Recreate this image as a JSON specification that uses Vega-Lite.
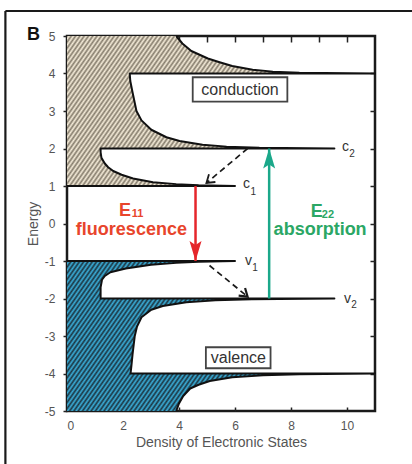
{
  "$schema": "https://vega.github.io/schema/vega-lite/v6.json",
  "width": 308,
  "height": 375,
  "autosize": {"type": "none"},
  "padding": {"left": 67, "top": 36, "right": 37, "bottom": 53},
  "background": "white",
  "config": {
    "view": {"stroke": "#1a1a1a", "strokeWidth": 2.5},
    "axis": {
      "domain": false,
      "grid": false,
      "labelFont": "Liberation Sans",
      "labelFontSize": 12,
      "labelColor": "#555555",
      "tickColor": "#222222",
      "tickWidth": 1.5,
      "titleFont": "Liberation Sans",
      "titleFontSize": 14,
      "titleFontWeight": "normal",
      "titleColor": "#555555"
    },
    "text": {"font": "Liberation Sans"}
  },
  "datasets": {
    "dos": [
      {"band": "conduction", "seq": 1, "density": 0, "energy": 1.0, "corner": false},
      {"band": "conduction", "seq": 2, "density": 6.0, "energy": 1.0, "corner": false},
      {"band": "conduction", "seq": 3, "density": 4.7, "energy": 1.02, "corner": false},
      {"band": "conduction", "seq": 4, "density": 3.9, "energy": 1.05, "corner": false},
      {"band": "conduction", "seq": 5, "density": 3.07, "energy": 1.1, "corner": false},
      {"band": "conduction", "seq": 6, "density": 2.36, "energy": 1.2, "corner": false},
      {"band": "conduction", "seq": 7, "density": 1.95, "energy": 1.3, "corner": false},
      {"band": "conduction", "seq": 8, "density": 1.65, "energy": 1.4, "corner": false},
      {"band": "conduction", "seq": 9, "density": 1.47, "energy": 1.5, "corner": false},
      {"band": "conduction", "seq": 10, "density": 1.35, "energy": 1.6, "corner": false},
      {"band": "conduction", "seq": 11, "density": 1.23, "energy": 1.75, "corner": false},
      {"band": "conduction", "seq": 12, "density": 1.2, "energy": 1.9, "corner": false},
      {"band": "conduction", "seq": 13, "density": 1.2, "energy": 2.0, "corner": false},
      {"band": "conduction", "seq": 14, "density": 9.55, "energy": 2.0, "corner": false},
      {"band": "conduction", "seq": 15, "density": 6.87, "energy": 2.02, "corner": false},
      {"band": "conduction", "seq": 16, "density": 5.7, "energy": 2.05, "corner": false},
      {"band": "conduction", "seq": 17, "density": 4.84, "energy": 2.1, "corner": false},
      {"band": "conduction", "seq": 18, "density": 4.02, "energy": 2.2, "corner": false},
      {"band": "conduction", "seq": 19, "density": 3.55, "energy": 2.3, "corner": false},
      {"band": "conduction", "seq": 20, "density": 3.01, "energy": 2.5, "corner": false},
      {"band": "conduction", "seq": 21, "density": 2.66, "energy": 2.75, "corner": false},
      {"band": "conduction", "seq": 22, "density": 2.48, "energy": 3.0, "corner": false},
      {"band": "conduction", "seq": 23, "density": 2.34, "energy": 3.5, "corner": false},
      {"band": "conduction", "seq": 24, "density": 2.26, "energy": 3.8, "corner": false},
      {"band": "conduction", "seq": 25, "density": 2.24, "energy": 4.0, "corner": false},
      {"band": "conduction", "seq": 26, "density": 11, "energy": 4.0, "corner": false},
      {"band": "conduction", "seq": 27, "density": 8.3, "energy": 4.02, "corner": false},
      {"band": "conduction", "seq": 28, "density": 7.35, "energy": 4.05, "corner": false},
      {"band": "conduction", "seq": 29, "density": 6.63, "energy": 4.1, "corner": false},
      {"band": "conduction", "seq": 30, "density": 5.9, "energy": 4.2, "corner": false},
      {"band": "conduction", "seq": 31, "density": 5.45, "energy": 4.3, "corner": false},
      {"band": "conduction", "seq": 32, "density": 5.03, "energy": 4.4, "corner": false},
      {"band": "conduction", "seq": 33, "density": 4.44, "energy": 4.6, "corner": false},
      {"band": "conduction", "seq": 34, "density": 4.12, "energy": 4.8, "corner": false},
      {"band": "conduction", "seq": 35, "density": 3.9, "energy": 5.0, "corner": false},
      {"band": "conduction", "seq": 36, "density": 0, "energy": 5.0, "corner": true},
      {"band": "valence", "seq": 0, "density": 0, "energy": -5.0, "corner": true},
      {"band": "valence", "seq": 1, "density": 3.9, "energy": -5.0, "corner": false},
      {"band": "valence", "seq": 2, "density": 4.0, "energy": -4.8, "corner": false},
      {"band": "valence", "seq": 3, "density": 4.15, "energy": -4.6, "corner": false},
      {"band": "valence", "seq": 4, "density": 4.4, "energy": -4.4, "corner": false},
      {"band": "valence", "seq": 5, "density": 4.7, "energy": -4.3, "corner": false},
      {"band": "valence", "seq": 6, "density": 5.1, "energy": -4.2, "corner": false},
      {"band": "valence", "seq": 7, "density": 5.9, "energy": -4.1, "corner": false},
      {"band": "valence", "seq": 8, "density": 7.0, "energy": -4.05, "corner": false},
      {"band": "valence", "seq": 9, "density": 8.3, "energy": -4.02, "corner": false},
      {"band": "valence", "seq": 10, "density": 11, "energy": -4.0, "corner": false},
      {"band": "valence", "seq": 11, "density": 2.27, "energy": -4.0, "corner": false},
      {"band": "valence", "seq": 12, "density": 2.3, "energy": -3.8, "corner": false},
      {"band": "valence", "seq": 13, "density": 2.34, "energy": -3.5, "corner": false},
      {"band": "valence", "seq": 14, "density": 2.42, "energy": -3.0, "corner": false},
      {"band": "valence", "seq": 15, "density": 2.5, "energy": -2.75, "corner": false},
      {"band": "valence", "seq": 16, "density": 2.66, "energy": -2.5, "corner": false},
      {"band": "valence", "seq": 17, "density": 3.01, "energy": -2.3, "corner": false},
      {"band": "valence", "seq": 18, "density": 3.42, "energy": -2.2, "corner": false},
      {"band": "valence", "seq": 19, "density": 4.26, "energy": -2.1, "corner": false},
      {"band": "valence", "seq": 20, "density": 5.3, "energy": -2.05, "corner": false},
      {"band": "valence", "seq": 21, "density": 6.6, "energy": -2.02, "corner": false},
      {"band": "valence", "seq": 22, "density": 9.55, "energy": -2.0, "corner": false},
      {"band": "valence", "seq": 23, "density": 1.2, "energy": -2.0, "corner": false},
      {"band": "valence", "seq": 24, "density": 1.2, "energy": -1.7, "corner": false},
      {"band": "valence", "seq": 25, "density": 1.25, "energy": -1.5, "corner": false},
      {"band": "valence", "seq": 26, "density": 1.35, "energy": -1.4, "corner": false},
      {"band": "valence", "seq": 27, "density": 1.55, "energy": -1.3, "corner": false},
      {"band": "valence", "seq": 28, "density": 2.1, "energy": -1.2, "corner": false},
      {"band": "valence", "seq": 29, "density": 3.0, "energy": -1.1, "corner": false},
      {"band": "valence", "seq": 30, "density": 3.9, "energy": -1.05, "corner": false},
      {"band": "valence", "seq": 31, "density": 4.7, "energy": -1.02, "corner": false},
      {"band": "valence", "seq": 32, "density": 6.0, "energy": -1.0, "corner": false},
      {"band": "valence", "seq": 33, "density": 0, "energy": -1.0, "corner": false}
    ],
    "arrows": [
      {"arrow": "E11", "x": 4.59, "y": 1.0, "x2": 4.59, "y2": -1.0},
      {"arrow": "E22", "x": 7.22, "y": -2.0, "x2": 7.22, "y2": 2.0},
      {"arrow": "c2 to c1", "x": 6.45, "y": 2.0, "x2": 4.98, "y2": 1.08},
      {"arrow": "v1 to v2", "x": 5.09, "y": -1.12, "x2": 6.45, "y2": -1.95}
    ],
    "boxes": [
      {"label": "conduction", "x": 4.49, "x2": 7.87, "y": 3.25, "y2": 3.9, "xc": 6.18, "yc": 3.57},
      {"label": "valence", "x": 4.96, "x2": 7.27, "y": -3.86, "y2": -3.3, "xc": 6.12, "yc": -3.58}
    ],
    "levels": [
      {"text": "c", "x": 9.82, "y": 2.03, "part": "letter"},
      {"text": "2", "x": 10.08, "y": 1.86, "part": "index"},
      {"text": "c", "x": 6.29, "y": 1.05, "part": "letter"},
      {"text": "1", "x": 6.55, "y": 0.85, "part": "index"},
      {"text": "v", "x": 6.36, "y": -1.01, "part": "letter"},
      {"text": "1", "x": 6.62, "y": -1.19, "part": "index"},
      {"text": "v", "x": 9.89, "y": -2.0, "part": "letter"},
      {"text": "2", "x": 10.15, "y": -2.17, "part": "index"}
    ],
    "transitions": [
      {"text": "E", "x": 2.07, "y": 0.34, "group": "E11", "part": "symbol"},
      {"text": "11", "x": 2.52, "y": 0.25, "group": "E11", "part": "index"},
      {"text": "fluorescence", "x": 2.3, "y": -0.17, "group": "E11", "part": "name"},
      {"text": "E", "x": 8.92, "y": 0.32, "group": "E22", "part": "symbol"},
      {"text": "22", "x": 9.32, "y": 0.24, "group": "E22", "part": "index"},
      {"text": "absorption", "x": 9.04, "y": -0.17, "group": "E22", "part": "name"}
    ],
    "panel": [{"text": "B", "x": -1.43, "y": 5.03}],
    "frame": [
      {"x": -2.2, "y": 5.667, "x2": 12.6, "y2": 5.667},
      {"x": -2.2, "y": 5.667, "x2": -2.2, "y2": -6.7}
    ]
  },
  "layer": [
    {
      "layer": [
        {
          "data": {"name": "dos"},
          "transform": [{"filter": "datum.band === 'conduction'"}],
          "mark": {
            "type": "line",
            "strokeOpacity": 0,
            "fill": {
              "gradient": "linear", "x1": 0, "y1": 0, "x2": 1, "y2": 0.34,
              "stops": [
                {"offset":0,"color":"#857c6c"},{"offset":0.00625,"color":"#f5ecd9"},{"offset":0.0125,"color":"#857c6c"},{"offset":0.01875,"color":"#f5ecd9"},{"offset":0.025,"color":"#857c6c"},{"offset":0.03125,"color":"#f5ecd9"},{"offset":0.0375,"color":"#857c6c"},{"offset":0.04375,"color":"#f5ecd9"},
                {"offset":0.05,"color":"#857c6c"},{"offset":0.05625,"color":"#f5ecd9"},{"offset":0.0625,"color":"#857c6c"},{"offset":0.06875,"color":"#f5ecd9"},{"offset":0.075,"color":"#857c6c"},{"offset":0.08125,"color":"#f5ecd9"},{"offset":0.0875,"color":"#857c6c"},{"offset":0.09375,"color":"#f5ecd9"},
                {"offset":0.1,"color":"#857c6c"},{"offset":0.10625,"color":"#f5ecd9"},{"offset":0.1125,"color":"#857c6c"},{"offset":0.11875,"color":"#f5ecd9"},{"offset":0.125,"color":"#857c6c"},{"offset":0.13125,"color":"#f5ecd9"},{"offset":0.1375,"color":"#857c6c"},{"offset":0.14375,"color":"#f5ecd9"},
                {"offset":0.15,"color":"#857c6c"},{"offset":0.15625,"color":"#f5ecd9"},{"offset":0.1625,"color":"#857c6c"},{"offset":0.16875,"color":"#f5ecd9"},{"offset":0.175,"color":"#857c6c"},{"offset":0.18125,"color":"#f5ecd9"},{"offset":0.1875,"color":"#857c6c"},{"offset":0.19375,"color":"#f5ecd9"},
                {"offset":0.2,"color":"#857c6c"},{"offset":0.20625,"color":"#f5ecd9"},{"offset":0.2125,"color":"#857c6c"},{"offset":0.21875,"color":"#f5ecd9"},{"offset":0.225,"color":"#857c6c"},{"offset":0.23125,"color":"#f5ecd9"},{"offset":0.2375,"color":"#857c6c"},{"offset":0.24375,"color":"#f5ecd9"},
                {"offset":0.25,"color":"#857c6c"},{"offset":0.25625,"color":"#f5ecd9"},{"offset":0.2625,"color":"#857c6c"},{"offset":0.26875,"color":"#f5ecd9"},{"offset":0.275,"color":"#857c6c"},{"offset":0.28125,"color":"#f5ecd9"},{"offset":0.2875,"color":"#857c6c"},{"offset":0.29375,"color":"#f5ecd9"},
                {"offset":0.3,"color":"#857c6c"},{"offset":0.30625,"color":"#f5ecd9"},{"offset":0.3125,"color":"#857c6c"},{"offset":0.31875,"color":"#f5ecd9"},{"offset":0.325,"color":"#857c6c"},{"offset":0.33125,"color":"#f5ecd9"},{"offset":0.3375,"color":"#857c6c"},{"offset":0.34375,"color":"#f5ecd9"},
                {"offset":0.35,"color":"#857c6c"},{"offset":0.35625,"color":"#f5ecd9"},{"offset":0.3625,"color":"#857c6c"},{"offset":0.36875,"color":"#f5ecd9"},{"offset":0.375,"color":"#857c6c"},{"offset":0.38125,"color":"#f5ecd9"},{"offset":0.3875,"color":"#857c6c"},{"offset":0.39375,"color":"#f5ecd9"},
                {"offset":0.4,"color":"#857c6c"},{"offset":0.40625,"color":"#f5ecd9"},{"offset":0.4125,"color":"#857c6c"},{"offset":0.41875,"color":"#f5ecd9"},{"offset":0.425,"color":"#857c6c"},{"offset":0.43125,"color":"#f5ecd9"},{"offset":0.4375,"color":"#857c6c"},{"offset":0.44375,"color":"#f5ecd9"},
                {"offset":0.45,"color":"#857c6c"},{"offset":0.45625,"color":"#f5ecd9"},{"offset":0.4625,"color":"#857c6c"},{"offset":0.46875,"color":"#f5ecd9"},{"offset":0.475,"color":"#857c6c"},{"offset":0.48125,"color":"#f5ecd9"},{"offset":0.4875,"color":"#857c6c"},{"offset":0.49375,"color":"#f5ecd9"},
                {"offset":0.5,"color":"#857c6c"},{"offset":0.50625,"color":"#f5ecd9"},{"offset":0.5125,"color":"#857c6c"},{"offset":0.51875,"color":"#f5ecd9"},{"offset":0.525,"color":"#857c6c"},{"offset":0.53125,"color":"#f5ecd9"},{"offset":0.5375,"color":"#857c6c"},{"offset":0.54375,"color":"#f5ecd9"},
                {"offset":0.55,"color":"#857c6c"},{"offset":0.55625,"color":"#f5ecd9"},{"offset":0.5625,"color":"#857c6c"},{"offset":0.56875,"color":"#f5ecd9"},{"offset":0.575,"color":"#857c6c"},{"offset":0.58125,"color":"#f5ecd9"},{"offset":0.5875,"color":"#857c6c"},{"offset":0.59375,"color":"#f5ecd9"},
                {"offset":0.6,"color":"#857c6c"},{"offset":0.60625,"color":"#f5ecd9"},{"offset":0.6125,"color":"#857c6c"},{"offset":0.61875,"color":"#f5ecd9"},{"offset":0.625,"color":"#857c6c"},{"offset":0.63125,"color":"#f5ecd9"},{"offset":0.6375,"color":"#857c6c"},{"offset":0.64375,"color":"#f5ecd9"},
                {"offset":0.65,"color":"#857c6c"},{"offset":0.65625,"color":"#f5ecd9"},{"offset":0.6625,"color":"#857c6c"},{"offset":0.66875,"color":"#f5ecd9"},{"offset":0.675,"color":"#857c6c"},{"offset":0.68125,"color":"#f5ecd9"},{"offset":0.6875,"color":"#857c6c"},{"offset":0.69375,"color":"#f5ecd9"},
                {"offset":0.7,"color":"#857c6c"},{"offset":0.70625,"color":"#f5ecd9"},{"offset":0.7125,"color":"#857c6c"},{"offset":0.71875,"color":"#f5ecd9"},{"offset":0.725,"color":"#857c6c"},{"offset":0.73125,"color":"#f5ecd9"},{"offset":0.7375,"color":"#857c6c"},{"offset":0.74375,"color":"#f5ecd9"},
                {"offset":0.75,"color":"#857c6c"},{"offset":0.75625,"color":"#f5ecd9"},{"offset":0.7625,"color":"#857c6c"},{"offset":0.76875,"color":"#f5ecd9"},{"offset":0.775,"color":"#857c6c"},{"offset":0.78125,"color":"#f5ecd9"},{"offset":0.7875,"color":"#857c6c"},{"offset":0.79375,"color":"#f5ecd9"},
                {"offset":0.8,"color":"#857c6c"},{"offset":0.80625,"color":"#f5ecd9"},{"offset":0.8125,"color":"#857c6c"},{"offset":0.81875,"color":"#f5ecd9"},{"offset":0.825,"color":"#857c6c"},{"offset":0.83125,"color":"#f5ecd9"},{"offset":0.8375,"color":"#857c6c"},{"offset":0.84375,"color":"#f5ecd9"},
                {"offset":0.85,"color":"#857c6c"},{"offset":0.85625,"color":"#f5ecd9"},{"offset":0.8625,"color":"#857c6c"},{"offset":0.86875,"color":"#f5ecd9"},{"offset":0.875,"color":"#857c6c"},{"offset":0.88125,"color":"#f5ecd9"},{"offset":0.8875,"color":"#857c6c"},{"offset":0.89375,"color":"#f5ecd9"},
                {"offset":0.9,"color":"#857c6c"},{"offset":0.90625,"color":"#f5ecd9"},{"offset":0.9125,"color":"#857c6c"},{"offset":0.91875,"color":"#f5ecd9"},{"offset":0.925,"color":"#857c6c"},{"offset":0.93125,"color":"#f5ecd9"},{"offset":0.9375,"color":"#857c6c"},{"offset":0.94375,"color":"#f5ecd9"},
                {"offset":0.95,"color":"#857c6c"},{"offset":0.95625,"color":"#f5ecd9"},{"offset":0.9625,"color":"#857c6c"},{"offset":0.96875,"color":"#f5ecd9"},{"offset":0.975,"color":"#857c6c"},{"offset":0.98125,"color":"#f5ecd9"},{"offset":0.9875,"color":"#857c6c"},{"offset":0.99375,"color":"#f5ecd9"},
                {"offset":1,"color":"#857c6c"}
              ]
            }
          },
          "encoding": {
            "x": {
              "field": "density", "type": "quantitative",
              "scale": {"domain": [0, 11], "nice": false, "zero": false},
              "axis": {
                "title": "Density of Electronic States",
                "values": [0, 1, 2, 3, 4, 5, 6, 7, 8, 9, 10],
                "labelExpr": "datum.value % 2 === 0 ? '' + datum.value : ''",
                "labelOverlap": false,
                "tickSize": -4,
                "labelPadding": 13,
                "titlePadding": 4
              }
            },
            "y": {
              "field": "energy", "type": "quantitative",
              "scale": {"domain": [-5, 5], "nice": false, "zero": false},
              "axis": {"orient": "right", "labels": false, "title": null, "values": [-4, -3, -2, -1, 0, 1, 2, 3, 4], "tickSize": -5}
            },
            "order": {"field": "seq"}
          }
        },
        {
          "data": {"name": "dos"},
          "transform": [{"filter": "datum.band === 'valence'"}],
          "mark": {
            "type": "line",
            "strokeOpacity": 0,
            "fill": {
              "gradient": "linear", "x1": 0, "y1": 0, "x2": 1, "y2": 0.34,
              "stops": [
                {"offset":0,"color":"#1c3440"},{"offset":0.00625,"color":"#3aaed9"},{"offset":0.0125,"color":"#1c3440"},{"offset":0.01875,"color":"#3aaed9"},{"offset":0.025,"color":"#1c3440"},{"offset":0.03125,"color":"#3aaed9"},{"offset":0.0375,"color":"#1c3440"},{"offset":0.04375,"color":"#3aaed9"},
                {"offset":0.05,"color":"#1c3440"},{"offset":0.05625,"color":"#3aaed9"},{"offset":0.0625,"color":"#1c3440"},{"offset":0.06875,"color":"#3aaed9"},{"offset":0.075,"color":"#1c3440"},{"offset":0.08125,"color":"#3aaed9"},{"offset":0.0875,"color":"#1c3440"},{"offset":0.09375,"color":"#3aaed9"},
                {"offset":0.1,"color":"#1c3440"},{"offset":0.10625,"color":"#3aaed9"},{"offset":0.1125,"color":"#1c3440"},{"offset":0.11875,"color":"#3aaed9"},{"offset":0.125,"color":"#1c3440"},{"offset":0.13125,"color":"#3aaed9"},{"offset":0.1375,"color":"#1c3440"},{"offset":0.14375,"color":"#3aaed9"},
                {"offset":0.15,"color":"#1c3440"},{"offset":0.15625,"color":"#3aaed9"},{"offset":0.1625,"color":"#1c3440"},{"offset":0.16875,"color":"#3aaed9"},{"offset":0.175,"color":"#1c3440"},{"offset":0.18125,"color":"#3aaed9"},{"offset":0.1875,"color":"#1c3440"},{"offset":0.19375,"color":"#3aaed9"},
                {"offset":0.2,"color":"#1c3440"},{"offset":0.20625,"color":"#3aaed9"},{"offset":0.2125,"color":"#1c3440"},{"offset":0.21875,"color":"#3aaed9"},{"offset":0.225,"color":"#1c3440"},{"offset":0.23125,"color":"#3aaed9"},{"offset":0.2375,"color":"#1c3440"},{"offset":0.24375,"color":"#3aaed9"},
                {"offset":0.25,"color":"#1c3440"},{"offset":0.25625,"color":"#3aaed9"},{"offset":0.2625,"color":"#1c3440"},{"offset":0.26875,"color":"#3aaed9"},{"offset":0.275,"color":"#1c3440"},{"offset":0.28125,"color":"#3aaed9"},{"offset":0.2875,"color":"#1c3440"},{"offset":0.29375,"color":"#3aaed9"},
                {"offset":0.3,"color":"#1c3440"},{"offset":0.30625,"color":"#3aaed9"},{"offset":0.3125,"color":"#1c3440"},{"offset":0.31875,"color":"#3aaed9"},{"offset":0.325,"color":"#1c3440"},{"offset":0.33125,"color":"#3aaed9"},{"offset":0.3375,"color":"#1c3440"},{"offset":0.34375,"color":"#3aaed9"},
                {"offset":0.35,"color":"#1c3440"},{"offset":0.35625,"color":"#3aaed9"},{"offset":0.3625,"color":"#1c3440"},{"offset":0.36875,"color":"#3aaed9"},{"offset":0.375,"color":"#1c3440"},{"offset":0.38125,"color":"#3aaed9"},{"offset":0.3875,"color":"#1c3440"},{"offset":0.39375,"color":"#3aaed9"},
                {"offset":0.4,"color":"#1c3440"},{"offset":0.40625,"color":"#3aaed9"},{"offset":0.4125,"color":"#1c3440"},{"offset":0.41875,"color":"#3aaed9"},{"offset":0.425,"color":"#1c3440"},{"offset":0.43125,"color":"#3aaed9"},{"offset":0.4375,"color":"#1c3440"},{"offset":0.44375,"color":"#3aaed9"},
                {"offset":0.45,"color":"#1c3440"},{"offset":0.45625,"color":"#3aaed9"},{"offset":0.4625,"color":"#1c3440"},{"offset":0.46875,"color":"#3aaed9"},{"offset":0.475,"color":"#1c3440"},{"offset":0.48125,"color":"#3aaed9"},{"offset":0.4875,"color":"#1c3440"},{"offset":0.49375,"color":"#3aaed9"},
                {"offset":0.5,"color":"#1c3440"},{"offset":0.50625,"color":"#3aaed9"},{"offset":0.5125,"color":"#1c3440"},{"offset":0.51875,"color":"#3aaed9"},{"offset":0.525,"color":"#1c3440"},{"offset":0.53125,"color":"#3aaed9"},{"offset":0.5375,"color":"#1c3440"},{"offset":0.54375,"color":"#3aaed9"},
                {"offset":0.55,"color":"#1c3440"},{"offset":0.55625,"color":"#3aaed9"},{"offset":0.5625,"color":"#1c3440"},{"offset":0.56875,"color":"#3aaed9"},{"offset":0.575,"color":"#1c3440"},{"offset":0.58125,"color":"#3aaed9"},{"offset":0.5875,"color":"#1c3440"},{"offset":0.59375,"color":"#3aaed9"},
                {"offset":0.6,"color":"#1c3440"},{"offset":0.60625,"color":"#3aaed9"},{"offset":0.6125,"color":"#1c3440"},{"offset":0.61875,"color":"#3aaed9"},{"offset":0.625,"color":"#1c3440"},{"offset":0.63125,"color":"#3aaed9"},{"offset":0.6375,"color":"#1c3440"},{"offset":0.64375,"color":"#3aaed9"},
                {"offset":0.65,"color":"#1c3440"},{"offset":0.65625,"color":"#3aaed9"},{"offset":0.6625,"color":"#1c3440"},{"offset":0.66875,"color":"#3aaed9"},{"offset":0.675,"color":"#1c3440"},{"offset":0.68125,"color":"#3aaed9"},{"offset":0.6875,"color":"#1c3440"},{"offset":0.69375,"color":"#3aaed9"},
                {"offset":0.7,"color":"#1c3440"},{"offset":0.70625,"color":"#3aaed9"},{"offset":0.7125,"color":"#1c3440"},{"offset":0.71875,"color":"#3aaed9"},{"offset":0.725,"color":"#1c3440"},{"offset":0.73125,"color":"#3aaed9"},{"offset":0.7375,"color":"#1c3440"},{"offset":0.74375,"color":"#3aaed9"},
                {"offset":0.75,"color":"#1c3440"},{"offset":0.75625,"color":"#3aaed9"},{"offset":0.7625,"color":"#1c3440"},{"offset":0.76875,"color":"#3aaed9"},{"offset":0.775,"color":"#1c3440"},{"offset":0.78125,"color":"#3aaed9"},{"offset":0.7875,"color":"#1c3440"},{"offset":0.79375,"color":"#3aaed9"},
                {"offset":0.8,"color":"#1c3440"},{"offset":0.80625,"color":"#3aaed9"},{"offset":0.8125,"color":"#1c3440"},{"offset":0.81875,"color":"#3aaed9"},{"offset":0.825,"color":"#1c3440"},{"offset":0.83125,"color":"#3aaed9"},{"offset":0.8375,"color":"#1c3440"},{"offset":0.84375,"color":"#3aaed9"},
                {"offset":0.85,"color":"#1c3440"},{"offset":0.85625,"color":"#3aaed9"},{"offset":0.8625,"color":"#1c3440"},{"offset":0.86875,"color":"#3aaed9"},{"offset":0.875,"color":"#1c3440"},{"offset":0.88125,"color":"#3aaed9"},{"offset":0.8875,"color":"#1c3440"},{"offset":0.89375,"color":"#3aaed9"},
                {"offset":0.9,"color":"#1c3440"},{"offset":0.90625,"color":"#3aaed9"},{"offset":0.9125,"color":"#1c3440"},{"offset":0.91875,"color":"#3aaed9"},{"offset":0.925,"color":"#1c3440"},{"offset":0.93125,"color":"#3aaed9"},{"offset":0.9375,"color":"#1c3440"},{"offset":0.94375,"color":"#3aaed9"},
                {"offset":0.95,"color":"#1c3440"},{"offset":0.95625,"color":"#3aaed9"},{"offset":0.9625,"color":"#1c3440"},{"offset":0.96875,"color":"#3aaed9"},{"offset":0.975,"color":"#1c3440"},{"offset":0.98125,"color":"#3aaed9"},{"offset":0.9875,"color":"#1c3440"},{"offset":0.99375,"color":"#3aaed9"},
                {"offset":1,"color":"#1c3440"}
              ]
            }
          },
          "encoding": {
            "x": {"field": "density", "type": "quantitative"},
            "y": {"field": "energy", "type": "quantitative"},
            "order": {"field": "seq"}
          }
        },
        {
          "data": {"name": "dos"},
          "transform": [{"filter": "!datum.corner"}],
          "mark": {"type": "line", "color": "#111111", "strokeWidth": 2, "strokeJoin": "round"},
          "encoding": {
            "x": {"field": "density", "type": "quantitative"},
            "y": {"field": "energy", "type": "quantitative"},
            "detail": {"field": "band"},
            "order": {"field": "seq"}
          }
        },
        {
          "data": {"name": "boxes"},
          "mark": {"type": "rect", "fill": "white", "stroke": "#444444", "strokeWidth": 1.8},
          "encoding": {
            "x": {"field": "x", "type": "quantitative"},
            "x2": {"field": "x2"},
            "y": {"field": "y", "type": "quantitative"},
            "y2": {"field": "y2"}
          }
        },
        {
          "data": {"name": "boxes"},
          "mark": {"type": "text", "fontSize": 16, "color": "#333333", "align": "center", "baseline": "middle"},
          "encoding": {
            "x": {"field": "xc", "type": "quantitative"},
            "y": {"field": "yc", "type": "quantitative"},
            "text": {"field": "label"}
          }
        },
        {
          "data": {"name": "levels"},
          "transform": [{"filter": "datum.part === 'letter'"}],
          "mark": {"type": "text", "fontSize": 14, "color": "#333333", "align": "left", "baseline": "middle"},
          "encoding": {
            "x": {"field": "x", "type": "quantitative"},
            "y": {"field": "y", "type": "quantitative"},
            "text": {"field": "text"}
          }
        },
        {
          "data": {"name": "levels"},
          "transform": [{"filter": "datum.part === 'index'"}],
          "mark": {"type": "text", "fontSize": 10, "color": "#333333", "align": "left", "baseline": "middle"},
          "encoding": {
            "x": {"field": "x", "type": "quantitative"},
            "y": {"field": "y", "type": "quantitative"},
            "text": {"field": "text"}
          }
        },
        {
          "data": {"name": "arrows"},
          "transform": [{"filter": "datum.arrow === 'E11'"}],
          "mark": {"type": "rule", "color": "#e5262b", "strokeWidth": 2.5},
          "encoding": {
            "x": {"field": "x", "type": "quantitative"},
            "y": {"field": "y", "type": "quantitative"},
            "x2": {"field": "x2"},
            "y2": {"field": "y2"}
          }
        },
        {
          "data": {"name": "arrows"},
          "transform": [{"filter": "datum.arrow === 'E11'"}],
          "mark": {"type": "point", "shape": "M0,0L-0.3,-1L0,-0.8L0.3,-1Z", "size": 1600, "filled": true, "color": "#e5262b", "opacity": 1, "strokeWidth": 0},
          "encoding": {
            "x": {"field": "x2", "type": "quantitative"},
            "y": {"field": "y2", "type": "quantitative"}
          }
        },
        {
          "data": {"name": "arrows"},
          "transform": [{"filter": "datum.arrow === 'E22'"}],
          "mark": {"type": "rule", "color": "#1ba88a", "strokeWidth": 2.5},
          "encoding": {
            "x": {"field": "x", "type": "quantitative"},
            "y": {"field": "y", "type": "quantitative"},
            "x2": {"field": "x2"},
            "y2": {"field": "y2"}
          }
        },
        {
          "data": {"name": "arrows"},
          "transform": [{"filter": "datum.arrow === 'E22'"}],
          "mark": {"type": "point", "shape": "M0,0L0.3,1L0,0.8L-0.3,1Z", "size": 1600, "filled": true, "color": "#1ba88a", "opacity": 1, "strokeWidth": 0},
          "encoding": {
            "x": {"field": "x2", "type": "quantitative"},
            "y": {"field": "y2", "type": "quantitative"}
          }
        },
        {
          "data": {"name": "arrows"},
          "transform": [{"filter": "datum.arrow === 'c2 to c1' || datum.arrow === 'v1 to v2'"}],
          "mark": {"type": "rule", "color": "#1a1a1a", "strokeWidth": 1.7, "strokeDash": [6, 4]},
          "encoding": {
            "x": {"field": "x", "type": "quantitative"},
            "y": {"field": "y", "type": "quantitative"},
            "x2": {"field": "x2"},
            "y2": {"field": "y2"}
          }
        },
        {
          "data": {"name": "arrows"},
          "transform": [{"filter": "datum.arrow === 'c2 to c1'"}],
          "mark": {"type": "point", "shape": "M-0.5,0.75L0,0L0.5,0.75", "size": 400, "filled": false, "color": "#1a1a1a", "opacity": 1, "strokeWidth": 1.8, "angle": 230},
          "encoding": {
            "x": {"field": "x2", "type": "quantitative"},
            "y": {"field": "y2", "type": "quantitative"}
          }
        },
        {
          "data": {"name": "arrows"},
          "transform": [{"filter": "datum.arrow === 'v1 to v2'"}],
          "mark": {"type": "point", "shape": "M-0.5,0.75L0,0L0.5,0.75", "size": 400, "filled": false, "color": "#1a1a1a", "opacity": 1, "strokeWidth": 2.2, "angle": 130},
          "encoding": {
            "x": {"field": "x2", "type": "quantitative"},
            "y": {"field": "y2", "type": "quantitative"}
          }
        },
        {
          "data": {"name": "transitions"},
          "transform": [{"filter": "datum.part !== 'index'"}],
          "mark": {"type": "text", "fontSize": 18, "fontWeight": "bold", "align": "center", "baseline": "middle"},
          "encoding": {
            "x": {"field": "x", "type": "quantitative"},
            "y": {"field": "y", "type": "quantitative"},
            "text": {"field": "text"},
            "color": {"field": "group", "type": "nominal", "scale": {"domain": ["E11", "E22"], "range": ["#e8452c", "#2ba765"]}, "legend": null}
          }
        },
        {
          "data": {"name": "transitions"},
          "transform": [{"filter": "datum.part === 'index'"}],
          "mark": {"type": "text", "fontSize": 11, "fontWeight": "bold", "align": "center", "baseline": "middle"},
          "encoding": {
            "x": {"field": "x", "type": "quantitative"},
            "y": {"field": "y", "type": "quantitative"},
            "text": {"field": "text"},
            "color": {"field": "group", "type": "nominal", "scale": {"domain": ["E11", "E22"], "range": ["#e8452c", "#2ba765"]}, "legend": null}
          }
        },
        {
          "data": {"name": "panel"},
          "mark": {"type": "text", "fontSize": 18, "fontWeight": "bold", "color": "#111111", "align": "left", "baseline": "middle"},
          "encoding": {
            "x": {"field": "x", "type": "quantitative"},
            "y": {"field": "y", "type": "quantitative"},
            "text": {"field": "text"}
          }
        }
      ]
    },
    {
      "data": {"name": "frame"},
      "mark": {"type": "rule", "color": "#1a1a1a", "strokeWidth": 2.2, "clip": false},
      "encoding": {
        "x": {
          "field": "x", "type": "quantitative",
          "scale": {"domain": [0, 11], "nice": false, "zero": false},
          "axis": {"orient": "top", "labels": false, "title": null, "values": [1, 2, 3, 4, 5, 6, 7, 8, 9, 10], "tickSize": -6}
        },
        "y": {
          "field": "y", "type": "quantitative",
          "scale": {"domain": [-5, 5], "nice": false, "zero": false},
          "axis": {
            "orient": "left",
            "title": "Energy",
            "values": [-5, -4, -3, -2, -1, 0, 1, 2, 3, 4, 5],
            "labelExpr": "'' + datum.value",
            "labelOverlap": false,
            "tickSize": 4,
            "labelPadding": 8,
            "titlePadding": 4
          }
        },
        "x2": {"field": "x2"},
        "y2": {"field": "y2"}
      }
    }
  ],
  "resolve": {"axis": {"x": "independent", "y": "independent"}}
}
